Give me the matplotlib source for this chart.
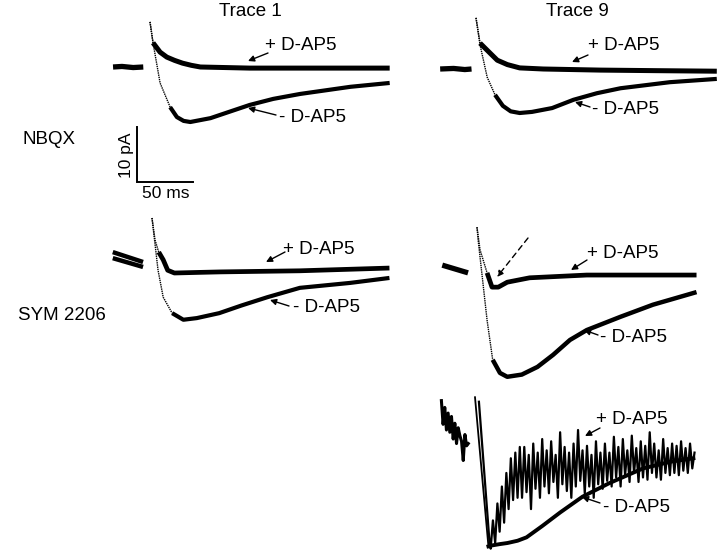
import matplotlib
matplotlib.use("Agg")
import matplotlib.pyplot as plt
import numpy as np

plt.rcParams['font.family'] = ['Liberation Sans', 'DejaVu Sans']

# ---------------- data (time in ms from stimulus, current in pA) ----------------
# NBQX, Trace 1
nbqx_t1_pre_t = [-33, -25, -15, -6]
nbqx_t1_pre_i = [0.0, 0.1, -0.1, 0.0]
nbqx_t1_plus_t = [0, 2.7, 9, 15, 22, 29, 37, 45, 89, 150, 214]
nbqx_t1_plus_i = [8.2, 4.4, 2.7, 1.8, 1.2, 0.7, 0.3, 0.0, -0.2, -0.2, -0.2]
nbqx_t1_minus_t = [0, 2.7, 9, 18, 24, 30, 36, 54, 70, 89, 110, 134, 179, 214]
nbqx_t1_minus_i = [8.2, 4.4, -2.9, -7.3, -9.1, -9.8, -10.0, -9.3, -8.2, -6.9, -5.8, -4.9, -3.6, -2.9]

# NBQX, Trace 9
nbqx_t9_pre_t = [-32, -20, -10, -4]
nbqx_t9_pre_i = [0.0, 0.1, -0.1, 0.0]
nbqx_t9_plus_t = [0, 3.6, 12.5, 19, 28, 39, 60, 111, 160, 215]
nbqx_t9_plus_i = [9.3, 4.7, 2.9, 1.6, 0.8, 0.2, 0.0, -0.2, -0.3, -0.4]
nbqx_t9_minus_t = [0, 3.6, 10, 17, 24, 31, 39, 50, 68, 87, 108, 129, 173, 215]
nbqx_t9_minus_i = [9.3, 4.4, -1.5, -4.7, -6.7, -7.7, -8.0, -7.8, -7.1, -5.6, -4.4, -3.5, -2.4, -1.8]

# SYM 2206, Trace 1
sym_t1_pre_t = [-35, -8]
sym_t1_pre_a = [1.8, 0.0]
sym_t1_pre_b = [0.7, -0.9]
sym_t1_plus_t = [0, 2.7, 6, 10, 14, 20, 40, 61, 132, 180, 212]
sym_t1_plus_i = [8.0, 4.0, 1.8, 0.4, -1.5, -2.0, -1.9, -1.8, -1.6, -1.3, -1.1]
sym_t1_minus_t = [0, 5.4, 10, 18, 28, 40, 60, 80, 103, 132, 177, 212]
sym_t1_minus_i = [8.0, -1.5, -6.4, -9.3, -10.5, -10.2, -9.3, -7.9, -6.4, -4.7, -3.8, -2.9]

# SYM 2206, Trace 9
sym_t9_pre_t = [-31, -8]
sym_t9_pre_i = [0.7, -0.7]
sym_t9_plus_t = [0, 2.7, 9, 13.4, 19, 27, 47, 98, 150, 196]
sym_t9_plus_i = [7.6, 3.5, -0.7, -3.3, -3.3, -2.4, -1.6, -1.1, -1.1, -1.1]
sym_t9_minus_t = [0, 1, 9, 14, 20.5, 27, 40, 54, 68, 83, 98, 128, 157, 196]
sym_t9_minus_i = [7.6, 5.3, -9.3, -16.5, -18.9, -19.6, -19.2, -17.8, -15.6, -12.9, -11.1, -8.7, -6.5, -4.2]

# SYM 2206, Trace 9, scaled (normalised amplitude)
scaled_pre_t = [-30, -28.5, -27, -25.5, -24, -22.5, -21, -19.5, -18, -16.5, -15, -13.5, -12, -10.5, -9, -7.5, -6]
scaled_pre_n = [0.26, 0.05, 0.2, 0.0, 0.15, -0.02, 0.12, -0.08, 0.06, -0.12, 0.02, -0.05, -0.1, -0.27, -0.04, -0.14, -0.12]
scaled_minus_t = [0, 12, 16, 22, 29, 38, 46, 60, 76, 96, 120, 150, 175, 195]
scaled_minus_n = [0.29, -1.03, -1.02, -1.01, -1.0, -0.98, -0.95, -0.85, -0.73, -0.59, -0.47, -0.34, -0.28, -0.25]
scaled_plus_t = [3.5, 13, 14, 16, 18, 20, 22, 24, 26, 28, 30, 32, 34, 36, 38, 40, 42, 44, 46, 48,
                 50, 52, 54, 56, 58, 60, 62, 64, 66, 68, 70, 72, 74, 76, 78, 80, 82, 84, 86, 88,
                 90, 92, 94, 96, 98, 100, 102, 104, 106, 108, 110, 112, 114, 116, 118, 120, 122, 124, 126, 128,
                 130, 132, 134, 136, 138, 140, 142, 144, 146, 148, 150, 152, 154, 156, 158, 160, 162, 164, 166, 168,
                 170, 172, 174, 176, 178, 180, 182, 184, 186, 188, 190, 192, 194, 196]
scaled_plus_n = [0.25, -1.0, -1.05, -0.8, -1.0, -0.65, -0.9, -0.5, -0.82, -0.38, -0.7, -0.25, -0.62, -0.2, -0.6, -0.15, -0.6, -0.15, -0.55, -0.22,
                 -0.7, -0.12, -0.52, -0.2, -0.6, -0.08, -0.5, -0.18, -0.56, -0.1, -0.46, -0.22, -0.6, -0.02, -0.48, -0.15, -0.54, -0.2, -0.6, -0.12,
                 -0.5, 0.0, -0.45, -0.18, -0.56, -0.14, -0.5, -0.22, -0.6, -0.1, -0.48, -0.2, -0.52, -0.12, -0.45, -0.2, -0.5, -0.06, -0.42, -0.15,
                 -0.5, -0.08, -0.4, -0.18, -0.46, -0.05, -0.38, -0.16, -0.46, -0.1, -0.42, -0.14, -0.44, -0.02, -0.38, -0.12, -0.42, -0.18, -0.44, -0.08,
                 -0.38, -0.16, -0.4, -0.12, -0.38, -0.14, -0.4, -0.1, -0.36, -0.16, -0.38, -0.12, -0.34, -0.2]

row_labels = ["NBQX", "SYM 2206"]
col_labels = ["Trace 1", "Trace 9"]
scale_ms = 50
scale_pa = 10

# ---------------- layout ----------------
W, H = 720, 560
fig = plt.figure(figsize=(W / 100, H / 100), dpi=100)
fig.patch.set_facecolor('white')

PX_MS = 1.12
PX_PA = 5.5


def panel(x_stim, y_base, px_unit):
    ax = fig.add_axes([0, 0, 1, 1], facecolor='none')
    ax.set_xlim(-x_stim / PX_MS, (W - x_stim) / PX_MS)
    ax.set_ylim((y_base - H) / px_unit, y_base / px_unit)
    ax.axis('off')
    return ax


def trace(ax, t, v, n_fast=2, lw=3.0):
    # fast stimulus-locked part is sparsely sampled -> thin dotted line
    ax.plot(t[:n_fast], v[:n_fast], color='black', lw=1.0, ls=(0, (1, 0.6)))
    ax.plot(t[n_fast - 1:], v[n_fast - 1:], color='black', lw=lw,
            solid_capstyle='butt', solid_joinstyle='round')


ax1 = panel(150, 67, PX_PA)
ax1.plot(nbqx_t1_pre_t, nbqx_t1_pre_i, color='black', lw=3.8, solid_capstyle='butt')
trace(ax1, nbqx_t1_plus_t, nbqx_t1_plus_i, 2, 3.6)
trace(ax1, nbqx_t1_minus_t, nbqx_t1_minus_i, 4, 3.0)
# scale bar
sb_t0 = (137 - 150) / PX_MS
sb_i0 = (67 - 182) / PX_PA
ax1.plot([sb_t0, sb_t0, sb_t0 + scale_ms], [sb_i0 + scale_pa, sb_i0, sb_i0],
         color='black', lw=1.4, solid_joinstyle='miter')

ax2 = panel(476, 69, PX_PA)
ax2.plot(nbqx_t9_pre_t, nbqx_t9_pre_i, color='black', lw=3.8, solid_capstyle='butt')
trace(ax2, nbqx_t9_plus_t, nbqx_t9_plus_i, 2, 3.6)
trace(ax2, nbqx_t9_minus_t, nbqx_t9_minus_i, 4, 3.0)

ax3 = panel(152, 262, PX_PA)
ax3.plot(sym_t1_pre_t, sym_t1_pre_a, color='black', lw=3.2, solid_capstyle='butt')
ax3.plot(sym_t1_pre_t, sym_t1_pre_b, color='black', lw=3.2, solid_capstyle='butt')
trace(ax3, sym_t1_plus_t, sym_t1_plus_i, 3, 3.4)
trace(ax3, sym_t1_minus_t, sym_t1_minus_i, 4, 3.0)

ax4 = panel(477, 269, PX_PA)
ax4.plot(sym_t9_pre_t, sym_t9_pre_i, color='black', lw=3.8, solid_capstyle='butt')
trace(ax4, sym_t9_plus_t, sym_t9_plus_i, 3, 3.4)
trace(ax4, sym_t9_minus_t, sym_t9_minus_i, 4, 3.2)

ax5 = panel(475, 430, 113)
ax5.plot(scaled_pre_t, scaled_pre_n, color='black', lw=2.2)
ax5.plot(scaled_minus_t[:2], scaled_minus_n[:2], color='black', lw=1.3)
ax5.plot(scaled_minus_t[1:], scaled_minus_n[1:], color='black', lw=2.8, solid_joinstyle='round')
ax5.plot(scaled_plus_t, scaled_plus_n, color='black', lw=1.6)

# overlay for text and arrows (pixel layout)
lay = fig.add_axes([0, 0, 1, 1], facecolor='none')
lay.set_xlim(0, W)
lay.set_ylim(H, 0)
lay.axis('off')

fs = 13.5
lay.text(250, 12, col_labels[0], fontsize=fs, ha='center', va='center')
lay.text(577, 12, col_labels[1], fontsize=fs, ha='center', va='center')
lay.text(22, 140, row_labels[0], fontsize=fs, ha='left', va='center')
lay.text(18, 316, row_labels[1], fontsize=fs, ha='left', va='center')
lay.text(126, 155, "10 pA", fontsize=fs - 1, rotation=90, ha='center', va='center')
lay.text(166, 193, "50 ms", fontsize=fs - 1, ha='center', va='center')


def label(x, y, s, tail, head, dashed=False):
    lay.text(x, y, s, fontsize=fs, ha='left', va='center')
    lay.annotate('', xy=head, xytext=tail,
                 arrowprops=dict(arrowstyle='-|>', color='black', lw=1.0,
                                 mutation_scale=9, shrinkA=0, shrinkB=0,
                                 ls='--' if dashed else '-'))


label(265, 45, "+ D-AP5", (268, 53), (248, 61))
label(279, 117, "- D-AP5", (276, 115), (248, 108))
label(588, 45, "+ D-AP5", (588, 55), (572, 62))
label(592, 110, "- D-AP5", (590, 107), (575, 102))
label(283, 249, "+ D-AP5", (285, 252), (266, 262))
label(293, 308, "- D-AP5", (289, 306), (270, 300))
label(587, 254, "+ D-AP5", (587, 260), (571, 270))
label(600, 338, "- D-AP5", (598, 335), (584, 330))
label(596, 420, "+ D-AP5", (600, 428), (585, 436))
label(603, 507, "- D-AP5", (600, 503), (582, 497))
lay.annotate('', xy=(497, 277), xytext=(528, 238),
             arrowprops=dict(arrowstyle='-|>', color='black', lw=1.0, ls=(0, (4, 3)),
                             mutation_scale=9, shrinkA=0, shrinkB=0))

fig.savefig('out.png', dpi=100, facecolor='white')
